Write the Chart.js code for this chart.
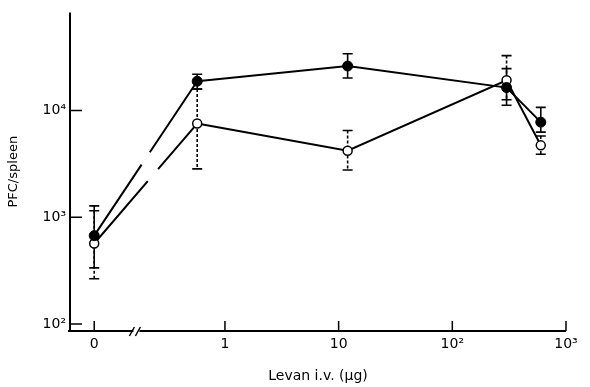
<!DOCTYPE html>
<html><head><meta charset="utf-8">
<script src="https://cdn.jsdelivr.net/npm/chart.js@4/dist/chart.umd.min.js"></script>
<style>html,body{margin:0;padding:0;background:#fff}#wrap{width:590px;height:387px}</style>
</head><body><div id="wrap"><canvas id="c" width="590" height="387"></canvas></div>
<script>
// Data (Levan dose in µg, PFC/spleen)
const doses = [0, 0.57, 12, 300, 600];
const filledPFC  = [673, 18800, 26100, 16400, 7780];
const filledHigh = [1280, 21900, 34000, 24700, 10700];
const filledLow  = [336, 15900, 20200, 11200, 6280];
const openPFC  = [568, 7550, 4200, 19200, 4720];
const openHigh = [1150, 15900, 6500, 32700, 5770];
const openLow  = [266, 2840, 2770, 12600, 3900];
const xTickValues = [0, 1, 10, 100, 1000];
const xTickLabels = ['0', '1', '10', '10²', '10³'];
const yTickValues = [100, 1000, 10000];
const yTickLabels = ['10²', '10³', '10⁴'];

// layout constants
const ZERO_POS = -1.15;   // where "0" sits on the broken log axis
const BREAK_POS = -0.77;  // axis break position
const FONT = "'DejaVu Sans', 'Liberation Sans', sans-serif";
const xpos = d => d === 0 ? ZERO_POS : Math.log10(d);

function gapDash(t0, t1) {
  return ctx => {
    if (ctx.p0DataIndex !== 0) return undefined;
    const L = Math.hypot(ctx.p1.x - ctx.p0.x, ctx.p1.y - ctx.p0.y);
    return [L * t0, L * (t1 - t0), L * 2];
  };
}

const axesPlugin = {
  id: 'axes',
  beforeDatasetsDraw(chart) {
    const {ctx, chartArea: a, scales: {x, y}} = chart;
    ctx.save();
    ctx.strokeStyle = '#000';
    ctx.lineWidth = 2;
    ctx.beginPath();
    ctx.moveTo(a.left, a.top); ctx.lineTo(a.left, a.bottom);
    ctx.moveTo(a.left - 2, a.bottom); ctx.lineTo(a.right, a.bottom);
    ctx.stroke();
    ctx.lineWidth = 1.5;
    ctx.beginPath();
    yTickValues.forEach(v => { const py = y.getPixelForValue(v); ctx.moveTo(a.left, py); ctx.lineTo(a.left + 12, py); });
    xTickValues.forEach(v => { const px = x.getPixelForValue(xpos(v)); ctx.moveTo(px, a.bottom); ctx.lineTo(px, a.bottom - 10); });
    ctx.stroke();
    // axis break
    const bx = x.getPixelForValue(BREAK_POS), by = a.bottom;
    ctx.fillStyle = '#fff';
    ctx.fillRect(bx - 4, by - 2, 6, 4);
    ctx.lineWidth = 1.5;
    ctx.beginPath();
    ctx.moveTo(bx - 8, by + 5); ctx.lineTo(bx - 3, by - 4);
    ctx.moveTo(bx - 2, by + 5); ctx.lineTo(bx + 3, by - 4);
    ctx.stroke();
    ctx.restore();
  }
};

const errPlugin = {
  id: 'err',
  beforeDatasetsDraw(chart) {
    const {ctx, scales: {x, y}} = chart;
    const draw = (hi, lo, dash) => {
      ctx.save();
      ctx.strokeStyle = '#000';
      ctx.lineWidth = 1.6;
      doses.forEach((d, i) => {
        const px = x.getPixelForValue(xpos(d));
        const pt = y.getPixelForValue(hi[i]), pb = y.getPixelForValue(lo[i]);
        ctx.setLineDash(dash);
        ctx.beginPath(); ctx.moveTo(px, pt); ctx.lineTo(px, pb); ctx.stroke();
        ctx.setLineDash([]);
        ctx.beginPath();
        ctx.moveTo(px - 5, pt); ctx.lineTo(px + 5, pt);
        ctx.moveTo(px - 5, pb); ctx.lineTo(px + 5, pb);
        ctx.stroke();
      });
      ctx.restore();
    };
    draw(filledHigh, filledLow, []);
    draw(openHigh, openLow, [3, 2]);
  }
};

new Chart(document.getElementById('c'), {
  type: 'line',
  data: {
    datasets: [
      {
        data: doses.map((d, i) => ({x: xpos(d), y: filledPFC[i]})),
        borderColor: '#000', borderWidth: 2,
        pointRadius: 5, pointBackgroundColor: '#000', pointBorderColor: '#000', pointBorderWidth: 1,
        segment: {borderDash: gapDash(0.46, 0.54)}
      },
      {
        data: doses.map((d, i) => ({x: xpos(d), y: openPFC[i]})),
        borderColor: '#000', borderWidth: 2,
        pointRadius: 4.5, pointBackgroundColor: '#fff', pointBorderColor: '#000', pointBorderWidth: 1.5,
        segment: {borderDash: gapDash(0.52, 0.62)}
      }
    ]
  },
  options: {
    responsive: false, animation: false,
    layout: {padding: {left: 0, right: 24, top: 8, bottom: 0}},
    plugins: {legend: {display: false}, tooltip: {enabled: false}},
    scales: {
      x: {
        type: 'linear', min: -1.363, max: 3.0,
        grid: {display: false, drawTicks: false}, border: {display: false},
        afterBuildTicks: s => { s.ticks = xTickValues.map(v => ({value: xpos(v)})); },
        ticks: {callback: (v, i) => xTickLabels[i], font: {family: FONT, size: 14}, color: '#000', padding: 5, maxRotation: 0, autoSkip: false},
        title: {display: true, text: 'Levan i.v. (µg)', font: {family: FONT, size: 14}, color: '#000', padding: {top: 0, bottom: 2}},
        afterFit: s => { s.height = 56; }
      },
      y: {
        type: 'logarithmic', min: 86.1, max: 83000,
        grid: {display: false, drawTicks: false}, border: {display: false},
        afterBuildTicks: s => { s.ticks = yTickValues.map(v => ({value: v})); },
        ticks: {callback: (v, i) => yTickLabels[i], font: {family: FONT, size: 14}, color: '#000', padding: 4, autoSkip: false},
        title: {display: true, text: 'PFC/spleen', font: {family: FONT, size: 13}, color: '#000', padding: {top: 6, bottom: 0}},
        afterFit: s => { s.width = 70; }
      }
    }
  },
  plugins: [axesPlugin, errPlugin]
});
</script></body></html>
